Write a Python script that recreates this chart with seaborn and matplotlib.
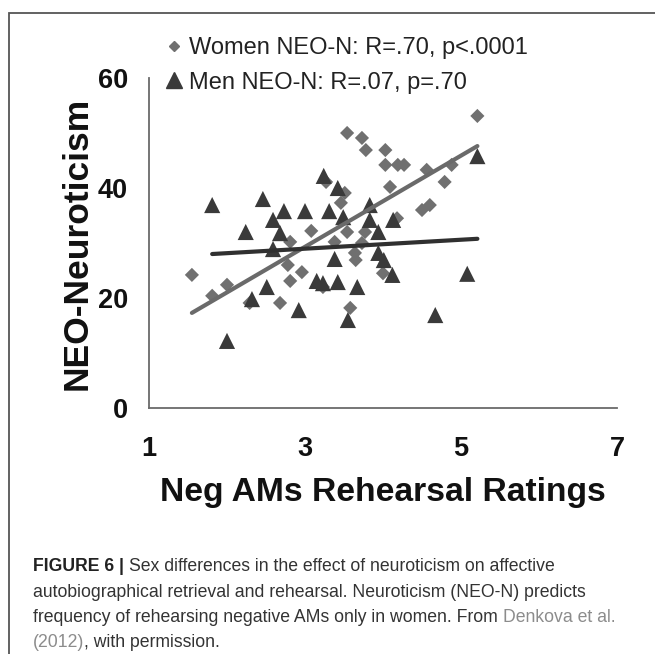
import matplotlib
matplotlib.use("Agg")
import matplotlib.pyplot as plt
from matplotlib.lines import Line2D
from matplotlib.patches import Rectangle
import seaborn as sns
import numpy as np
import pandas as pd

# ---- data ----
women_x = [1.55, 1.81, 2.00, 2.29, 2.68, 2.78, 2.81, 2.81, 2.96, 3.08, 3.23, 3.27,
           3.38, 3.46, 3.51, 3.54, 3.54, 3.58, 3.64, 3.65, 3.73, 3.73, 3.77, 3.78,
           4.00, 4.03, 4.03, 4.09, 4.18, 4.19, 4.27, 4.50, 4.60, 4.56, 4.79, 4.88, 5.21]
women_y = [24.2, 20.4, 22.4, 19.1, 19.1, 26.0, 30.2, 23.1, 24.7, 32.2, 22.0, 41.1,
           30.2, 37.3, 39.1, 50.0, 32.0, 18.2, 28.2, 26.9, 49.1, 30.0, 32.0, 46.9,
           24.5, 46.9, 44.2, 40.2, 34.5, 44.2, 44.2, 36.0, 36.9, 43.3, 41.1, 44.2, 53.1]
men_x = [1.81, 2.00, 2.24, 2.32, 2.46, 2.51, 2.59, 2.59, 2.68, 2.73, 2.92, 3.00,
         3.15, 3.23, 3.24, 3.31, 3.38, 3.42, 3.42, 3.49, 3.55, 3.67, 3.83, 3.83,
         3.94, 3.94, 4.01, 4.12, 4.13, 4.67, 5.08, 5.21]
men_y = [36.9, 12.2, 32.0, 19.8, 38.0, 22.0, 34.2, 28.9, 31.8, 35.8, 17.8, 35.8,
         23.1, 22.7, 42.2, 35.8, 27.1, 40.0, 22.9, 34.7, 16.0, 22.0, 36.9, 34.2,
         32.0, 28.2, 26.9, 24.2, 34.2, 16.9, 24.4, 45.8]

groups = ["Women NEO-N: R=.70, p<.0001", "Men NEO-N: R=.07, p=.70"]
x_ticks = [1, 3, 5, 7]
y_ticks = [0, 20, 40, 60]
x_label = "Neg AMs Rehearsal Ratings"
y_label = "NEO-Neuroticism"

caption_lines = [
    [("FIGURE 6 | ", "bold", "#222222"),
     ("Sex differences in the effect of neuroticism on affective", "normal", "#333333")],
    [("autobiographical retrieval and rehearsal. Neuroticism (NEO-N) predicts", "normal", "#333333")],
    [("frequency of rehearsing negative AMs only in women. From ", "normal", "#333333"),
     ("Denkova et al.", "normal", "#8c8c8c")],
    [("(2012)", "normal", "#8c8c8c"), (", with permission.", "normal", "#333333")],
]

df = pd.DataFrame({
    "x": women_x + men_x,
    "y": women_y + men_y,
    "group": [groups[0]] * len(women_x) + [groups[1]] * len(men_x),
})

# ---- styling ----
sns.set_style("white")
plt.rcParams["font.family"] = ["Liberation Sans", "DejaVu Sans"]

W_COL = "#707070"
M_COL = "#3a3a3a"
W_LINE = "#6a6a6a"
M_LINE = "#303030"
SPINE = "#6a6a6a"

fig = plt.figure(figsize=(6.55, 6.54), dpi=100)
ax = fig.add_axes([149 / 655, 246 / 654, 468 / 655, 330 / 654])

sns.scatterplot(data=df, x="x", y="y", hue="group", style="group",
                markers={groups[0]: "D", groups[1]: "^"},
                palette={groups[0]: W_COL, groups[1]: M_COL},
                size="group", sizes={groups[0]: 52, groups[1]: 135},
                linewidth=0, legend=False, ax=ax, zorder=2)

sns.regplot(x=np.array(women_x), y=np.array(women_y), scatter=False, ci=None,
            color=W_LINE, line_kws={"lw": 3.0, "zorder": 3, "solid_capstyle": "round"}, ax=ax)
sns.regplot(x=np.array(men_x), y=np.array(men_y), scatter=False, ci=None,
            color=M_LINE, line_kws={"lw": 3.0, "zorder": 3, "solid_capstyle": "round"}, ax=ax)

ax.set_xlim(1, 7)
ax.set_ylim(0, 60)
ax.set_xticks(x_ticks)
ax.set_yticks(y_ticks)
ax.set_xticklabels([str(t) for t in x_ticks], fontsize=19.5, fontweight="bold")
ax.set_yticklabels([str(t) for t in y_ticks], fontsize=19.5, fontweight="bold")
ax.tick_params(axis="both", direction="out", length=7, width=1.3, color=SPINE,
               labelcolor="#111111")
ax.tick_params(axis="y", pad=8)
ax.tick_params(axis="x", pad=13)
for s in ["top", "right"]:
    ax.spines[s].set_visible(False)
for s in ["left", "bottom"]:
    ax.spines[s].set_color(SPINE)
    ax.spines[s].set_linewidth(1.3)
ax.set_xlabel(x_label, fontsize=24.2, fontweight="bold", color="#111111", labelpad=11)
ax.set_ylabel(y_label, fontsize=25.5, fontweight="bold", color="#111111", labelpad=3)

# legend
handles = [
    Line2D([], [], marker="D", color=W_COL, linestyle="none", markersize=5.5),
    Line2D([], [], marker="^", color=M_COL, linestyle="none", markersize=12),
]
fig.legend(handles, groups, loc="upper left", bbox_to_anchor=(156 / 655, 1 - 28 / 654),
           frameon=False, fontsize=17, handlelength=0.7, handletextpad=0.3,
           labelspacing=0.52, borderaxespad=0, labelcolor="#222222")

# figure frame
fig.add_artist(Rectangle((9 / 655, -0.2), 1.2, 0.2 + (654 - 13) / 654,
                         transform=fig.transFigure, fill=False,
                         edgecolor="#555555", lw=1.3))

# caption
renderer = fig.canvas.get_renderer()
baselines = [571, 597, 622, 647]
for line, yb in zip(caption_lines, baselines):
    xpix = 33
    for txt, weight, col in line:
        t = fig.text(xpix / 655, 1 - yb / 654, txt, fontsize=12.7, fontweight=weight,
                     color=col, ha="left", va="baseline")
        bb = t.get_window_extent(renderer=renderer)
        xpix += bb.width

fig.savefig("out.png", dpi=100)
